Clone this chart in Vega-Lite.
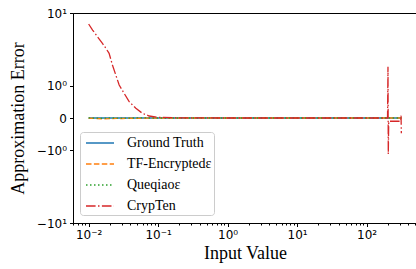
{
  "$schema": "https://vega.github.io/schema/vega-lite/v6.json",
  "width": 344,
  "height": 210,
  "autosize": {"type": "none"},
  "padding": {"left": 73, "top": 13, "right": 0, "bottom": 46},
  "background": "white",
  "config": {
    "view": {"stroke": "black", "strokeWidth": 1},
    "axis": {
      "grid": false,
      "domainColor": "black",
      "tickColor": "black",
      "labelColor": "black",
      "labelFont": "DejaVu Sans",
      "labelFontSize": 12,
      "titleFont": "Liberation Serif",
      "titleFontSize": 18,
      "titleFontWeight": "normal",
      "titleColor": "black"
    },
    "legend": {
      "symbolType": "M-1.75,0H1.75",
      "symbolSize": 256,
      "symbolStrokeWidth": 1.5,
      "symbolOffset": 9,
      "labelFont": "Liberation Serif",
      "labelFontSize": 14,
      "labelColor": "black",
      "labelOffset": 18,
      "rowPadding": 5,
      "padding": 2,
      "fillColor": "white",
      "strokeColor": "#cccccc",
      "cornerRadius": 3
    }
  },
  "data": {
    "values": [
      {"series": "Ground Truth", "x": 0.01, "y": 0},
      {"series": "Ground Truth", "x": 0.1, "y": 0},
      {"series": "Ground Truth", "x": 1, "y": 0},
      {"series": "Ground Truth", "x": 10, "y": 0},
      {"series": "Ground Truth", "x": 100, "y": 0},
      {"series": "Ground Truth", "x": 316, "y": 0},
      {"series": "TF-Encryptedε", "x": 0.01, "y": -0.005},
      {"series": "TF-Encryptedε", "x": 0.013, "y": -0.01},
      {"series": "TF-Encryptedε", "x": 0.016, "y": -0.02},
      {"series": "TF-Encryptedε", "x": 0.02, "y": -0.015},
      {"series": "TF-Encryptedε", "x": 0.025, "y": -0.008},
      {"series": "TF-Encryptedε", "x": 0.03, "y": -0.012},
      {"series": "TF-Encryptedε", "x": 0.04, "y": -0.005},
      {"series": "TF-Encryptedε", "x": 0.05, "y": -0.008},
      {"series": "TF-Encryptedε", "x": 0.07, "y": -0.003},
      {"series": "TF-Encryptedε", "x": 0.1, "y": -0.002},
      {"series": "TF-Encryptedε", "x": 0.3, "y": 0},
      {"series": "TF-Encryptedε", "x": 1, "y": 0},
      {"series": "TF-Encryptedε", "x": 10, "y": 0},
      {"series": "TF-Encryptedε", "x": 100, "y": 0},
      {"series": "TF-Encryptedε", "x": 316, "y": 0},
      {"series": "Queqiaoε", "x": 0.01, "y": 0.003},
      {"series": "Queqiaoε", "x": 0.015, "y": -0.006},
      {"series": "Queqiaoε", "x": 0.02, "y": 0.002},
      {"series": "Queqiaoε", "x": 0.03, "y": -0.004},
      {"series": "Queqiaoε", "x": 0.05, "y": 0.001},
      {"series": "Queqiaoε", "x": 0.1, "y": 0},
      {"series": "Queqiaoε", "x": 1, "y": 0},
      {"series": "Queqiaoε", "x": 10, "y": 0},
      {"series": "Queqiaoε", "x": 100, "y": 0},
      {"series": "Queqiaoε", "x": 316, "y": 0},
      {"series": "CrypTen", "x": 0.01, "y": 7.46},
      {"series": "CrypTen", "x": 0.0114, "y": 6.33},
      {"series": "CrypTen", "x": 0.0134, "y": 5.26},
      {"series": "CrypTen", "x": 0.0158, "y": 4.35},
      {"series": "CrypTen", "x": 0.0177, "y": 3.76},
      {"series": "CrypTen", "x": 0.0197, "y": 3.23},
      {"series": "CrypTen", "x": 0.022, "y": 2.22},
      {"series": "CrypTen", "x": 0.0246, "y": 1.56},
      {"series": "CrypTen", "x": 0.0275, "y": 1.04},
      {"series": "CrypTen", "x": 0.0324, "y": 0.697},
      {"series": "CrypTen", "x": 0.0383, "y": 0.412},
      {"series": "CrypTen", "x": 0.0478, "y": 0.2255},
      {"series": "CrypTen", "x": 0.0594, "y": 0.1027},
      {"series": "CrypTen", "x": 0.0743, "y": 0.0423},
      {"series": "CrypTen", "x": 0.0977, "y": 0.0144},
      {"series": "CrypTen", "x": 0.2, "y": 0.003},
      {"series": "CrypTen", "x": 1, "y": 0},
      {"series": "CrypTen", "x": 10, "y": 0},
      {"series": "CrypTen", "x": 100, "y": 0},
      {"series": "CrypTen", "x": 200, "y": 0},
      {"series": "CrypTen", "x": 203, "y": 2.1},
      {"series": "CrypTen", "x": 205, "y": -1.19},
      {"series": "CrypTen", "x": 208, "y": -0.07},
      {"series": "CrypTen", "x": 310, "y": -0.07},
      {"series": "CrypTen", "x": 313, "y": 0.05},
      {"series": "CrypTen", "x": 316, "y": -0.38}
    ]
  },
  "encoding": {
    "x": {
      "field": "x",
      "type": "quantitative",
      "scale": {"type": "log", "domain": [0.005957, 530.9], "nice": false},
      "axis": {
        "title": "Input Value",
        "values": [0.006, 0.007, 0.008, 0.009, 0.01, 0.02, 0.03, 0.04, 0.05, 0.06, 0.07, 0.08, 0.09, 0.1, 0.2, 0.3, 0.4, 0.5, 0.6, 0.7, 0.8, 0.9, 1, 2, 3, 4, 5, 6, 7, 8, 9, 10, 20, 30, 40, 50, 60, 70, 80, 90, 100, 200, 300, 400, 500],
        "labelExpr": "datum.value == 0.01 ? '10⁻²' : datum.value == 0.1 ? '10⁻¹' : datum.value == 1 ? '10⁰' : datum.value == 10 ? '10¹' : datum.value == 100 ? '10²' : ''",
        "tickSize": {"condition": {"test": "indexof([0.01,0.1,1,10,100], datum.value) >= 0", "value": 3.5}, "value": 2},
        "labelPadding": 3,
        "labelFlush": false,
        "labelOverlap": false,
        "titlePadding": 4
      }
    },
    "y": {
      "field": "y",
      "type": "quantitative",
      "scale": {"type": "symlog", "constant": 0.85, "domain": [-10, 10], "nice": false},
      "axis": {
        "title": "Approximation Error",
        "values": [-10, -1, 0, 1, 10],
        "labelExpr": "datum.value == 10 ? '10¹' : datum.value == 1 ? '10⁰' : datum.value == 0 ? '0' : datum.value == -1 ? '−10⁰' : '−10¹'",
        "tickSize": 3.5,
        "labelPadding": 3,
        "labelFlush": false,
        "labelOverlap": false,
        "titlePadding": 9
      }
    },
    "color": {
      "field": "series",
      "type": "nominal",
      "scale": {
        "domain": ["Ground Truth", "TF-Encryptedε", "Queqiaoε", "CrypTen"],
        "range": ["#1f77b4", "#ff7f0e", "#2ca02c", "#d62728"]
      },
      "legend": {"title": null, "orient": "none", "legendX": 7, "legendY": 119}
    },
    "strokeDash": {
      "field": "series",
      "type": "nominal",
      "scale": {
        "domain": ["Ground Truth", "TF-Encryptedε", "Queqiaoε", "CrypTen"],
        "range": [[1, 0], [5.5, 2.4], [1.5, 2.5], [9.6, 2.4, 1.5, 2.4]]
      },
      "legend": {"title": null, "orient": "none", "legendX": 7, "legendY": 119}
    }
  },
  "layer": [
    {
      "transform": [{"filter": "datum.series != 'CrypTen'"}],
      "mark": {"type": "line", "strokeWidth": 1.3, "clip": true}
    },
    {
      "transform": [{"filter": "datum.series == 'CrypTen'"}],
      "mark": {"type": "line", "strokeWidth": 1.3, "clip": true}
    }
  ]
}
